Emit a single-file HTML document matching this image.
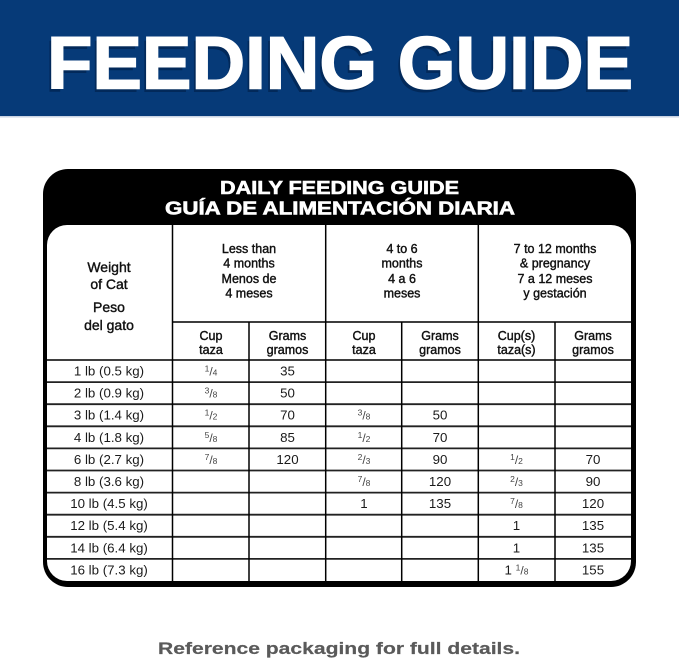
<!DOCTYPE html>
<html><head><meta charset="utf-8"><style>
html,body{margin:0;padding:0;background:#fff;}
svg{display:block;}
</style></head><body>
<svg width="679" height="662" viewBox="0 0 679 662" xmlns="http://www.w3.org/2000/svg">
<rect x="0" y="0" width="679" height="116" fill="#063a78"/>
<rect x="0" y="116" width="679" height="1.5" fill="#c9d3e3"/>
<text x="339" y="90.5" text-anchor="middle" font-family="Liberation Sans, sans-serif" font-weight="bold" font-size="74" fill="#02295a" textLength="586" lengthAdjust="spacingAndGlyphs" transform="translate(-1.5,1.5)">FEEDING GUIDE</text>
<text x="340" y="88.5" text-anchor="middle" font-family="Liberation Sans, sans-serif" font-weight="bold" font-size="74" fill="#fff" textLength="586" lengthAdjust="spacingAndGlyphs" stroke="#fff" stroke-width="1.5">FEEDING GUIDE</text>

<rect x="43" y="169" width="593" height="418" rx="25" fill="#000"/>
<rect x="47" y="225" width="584" height="356" rx="20" fill="#fff"/>
<g font-family="Liberation Sans, sans-serif" font-weight="bold" font-size="18" fill="#fff" stroke="#fff" stroke-width="0.6" text-anchor="middle">
<text x="339.5" y="194" textLength="239" lengthAdjust="spacingAndGlyphs">DAILY FEEDING GUIDE</text>
<text x="340" y="214.5" textLength="350" lengthAdjust="spacingAndGlyphs">GUÍA DE ALIMENTACIÓN DIARIA</text>
</g>

<defs><clipPath id="c"><rect x="47" y="225" width="584" height="356" rx="20"/></clipPath></defs>
<g clip-path="url(#c)">
<g stroke="#222" stroke-width="1.8">
<line x1="47" y1="360" x2="631" y2="360"/>
<line x1="47" y1="382.1" x2="631" y2="382.1"/>
<line x1="47" y1="404.2" x2="631" y2="404.2"/>
<line x1="47" y1="426.3" x2="631" y2="426.3"/>
<line x1="47" y1="448.4" x2="631" y2="448.4"/>
<line x1="47" y1="470.5" x2="631" y2="470.5"/>
<line x1="47" y1="492.6" x2="631" y2="492.6"/>
<line x1="47" y1="514.7" x2="631" y2="514.7"/>
<line x1="47" y1="536.8" x2="631" y2="536.8"/>
<line x1="47" y1="558.9" x2="631" y2="558.9"/>
<line x1="172" y1="322" x2="631" y2="322"/>
</g>
<g stroke="#000" stroke-width="1.5">
<line x1="172.5" y1="225" x2="172.5" y2="581"/>
<line x1="249" y1="322" x2="249" y2="581"/>
<line x1="325.7" y1="225" x2="325.7" y2="581"/>
<line x1="401.7" y1="322" x2="401.7" y2="581"/>
<line x1="478.3" y1="225" x2="478.3" y2="581"/>
<line x1="555" y1="322" x2="555" y2="581"/>
</g>
</g>

<g font-family="Liberation Sans, sans-serif" fill="#111" stroke="#111" stroke-width="0.4" text-anchor="middle">
<g font-size="14">
<text x="109" y="272">Weight</text>
<text x="109" y="289">of Cat</text>
<text x="109" y="312">Peso</text>
<text x="109" y="330">del gato</text>
</g>
<g font-size="12.5">
<text x="249" y="253">Less than</text>
<text x="249" y="267.5">4 months</text>
<text x="249" y="283">Menos de</text>
<text x="249" y="297.5">4 meses</text>
<text x="402" y="253">4 to 6</text>
<text x="402" y="267.5">months</text>
<text x="402" y="283">4 a 6</text>
<text x="402" y="297.5">meses</text>
<text x="555" y="253">7 to 12 months</text>
<text x="555" y="267.5">&amp; pregnancy</text>
<text x="555" y="283">7 a 12 meses</text>
<text x="555" y="297.5">y gestación</text>
<text x="211" y="340">Cup</text>
<text x="211" y="354">taza</text>
<text x="287.5" y="340">Grams</text>
<text x="287.5" y="354">gramos</text>
<text x="364" y="340">Cup</text>
<text x="364" y="354">taza</text>
<text x="440" y="340">Grams</text>
<text x="440" y="354">gramos</text>
<text x="516.5" y="340">Cup(s)</text>
<text x="516.5" y="354">taza(s)</text>
<text x="593" y="340">Grams</text>
<text x="593" y="354">gramos</text>
</g>
</g>

<g font-family="Liberation Sans, sans-serif" fill="#1a1a1a" font-size="13.3" text-anchor="middle">
<text x="109" y="375.5">1 lb (0.5 kg)</text>
<text x="109" y="397.6">2 lb (0.9 kg)</text>
<text x="109" y="419.7">3 lb (1.4 kg)</text>
<text x="109" y="441.8">4 lb (1.8 kg)</text>
<text x="109" y="463.9">6 lb (2.7 kg)</text>
<text x="109" y="486">8 lb (3.6 kg)</text>
<text x="109" y="508.1">10 lb (4.5 kg)</text>
<text x="109" y="530.2">12 lb (5.4 kg)</text>
<text x="109" y="552.3">14 lb (6.4 kg)</text>
<text x="109" y="574.4">16 lb (7.3 kg)</text>

<text x="287.5" y="375.5">35</text>
<text x="287.5" y="397.6">50</text>
<text x="287.5" y="419.7">70</text>
<text x="287.5" y="441.8">85</text>
<text x="287.5" y="463.9">120</text>

<text x="440" y="419.7">50</text>
<text x="440" y="441.8">70</text>
<text x="440" y="463.9">90</text>
<text x="440" y="486">120</text>
<text x="440" y="508.1">135</text>
<text x="364" y="508.1">1</text>

<text x="593" y="463.9">70</text>
<text x="593" y="486">90</text>
<text x="593" y="508.1">120</text>
<text x="593" y="530.2">135</text>
<text x="593" y="552.3">135</text>
<text x="593" y="574.4">155</text>
<text x="516.5" y="530.2">1</text>
<text x="516.5" y="552.3">1</text>
</g>

<g font-family="Liberation Sans, sans-serif" fill="#444" text-anchor="middle">
<text x="211" y="375.5"><tspan font-size="8.5" dy="-4">1</tspan><tspan font-size="12" dy="4">/</tspan><tspan font-size="8.5">4</tspan></text>
<text x="211" y="397.6"><tspan font-size="8.5" dy="-4">3</tspan><tspan font-size="12" dy="4">/</tspan><tspan font-size="8.5">8</tspan></text>
<text x="211" y="419.7"><tspan font-size="8.5" dy="-4">1</tspan><tspan font-size="12" dy="4">/</tspan><tspan font-size="8.5">2</tspan></text>
<text x="211" y="441.8"><tspan font-size="8.5" dy="-4">5</tspan><tspan font-size="12" dy="4">/</tspan><tspan font-size="8.5">8</tspan></text>
<text x="211" y="463.9"><tspan font-size="8.5" dy="-4">7</tspan><tspan font-size="12" dy="4">/</tspan><tspan font-size="8.5">8</tspan></text>

<text x="364" y="419.7"><tspan font-size="8.5" dy="-4">3</tspan><tspan font-size="12" dy="4">/</tspan><tspan font-size="8.5">8</tspan></text>
<text x="364" y="441.8"><tspan font-size="8.5" dy="-4">1</tspan><tspan font-size="12" dy="4">/</tspan><tspan font-size="8.5">2</tspan></text>
<text x="364" y="463.9"><tspan font-size="8.5" dy="-4">2</tspan><tspan font-size="12" dy="4">/</tspan><tspan font-size="8.5">3</tspan></text>
<text x="364" y="486"><tspan font-size="8.5" dy="-4">7</tspan><tspan font-size="12" dy="4">/</tspan><tspan font-size="8.5">8</tspan></text>

<text x="516.5" y="463.9"><tspan font-size="8.5" dy="-4">1</tspan><tspan font-size="12" dy="4">/</tspan><tspan font-size="8.5">2</tspan></text>
<text x="516.5" y="486"><tspan font-size="8.5" dy="-4">2</tspan><tspan font-size="12" dy="4">/</tspan><tspan font-size="8.5">3</tspan></text>
<text x="516.5" y="508.1"><tspan font-size="8.5" dy="-4">7</tspan><tspan font-size="12" dy="4">/</tspan><tspan font-size="8.5">8</tspan></text>
<text x="516.5" y="574.4"><tspan font-size="13.3" fill="#1a1a1a">1 </tspan><tspan font-size="8.5" dy="-4">1</tspan><tspan font-size="12" dy="4">/</tspan><tspan font-size="8.5">8</tspan></text>
</g>

<text x="339" y="654" text-anchor="middle" font-family="Liberation Sans, sans-serif" font-weight="bold" font-size="17" fill="#5a5a5a" stroke="#5a5a5a" stroke-width="0.2" textLength="362" lengthAdjust="spacingAndGlyphs">Reference packaging for full details.</text>
</svg>
</body></html>
